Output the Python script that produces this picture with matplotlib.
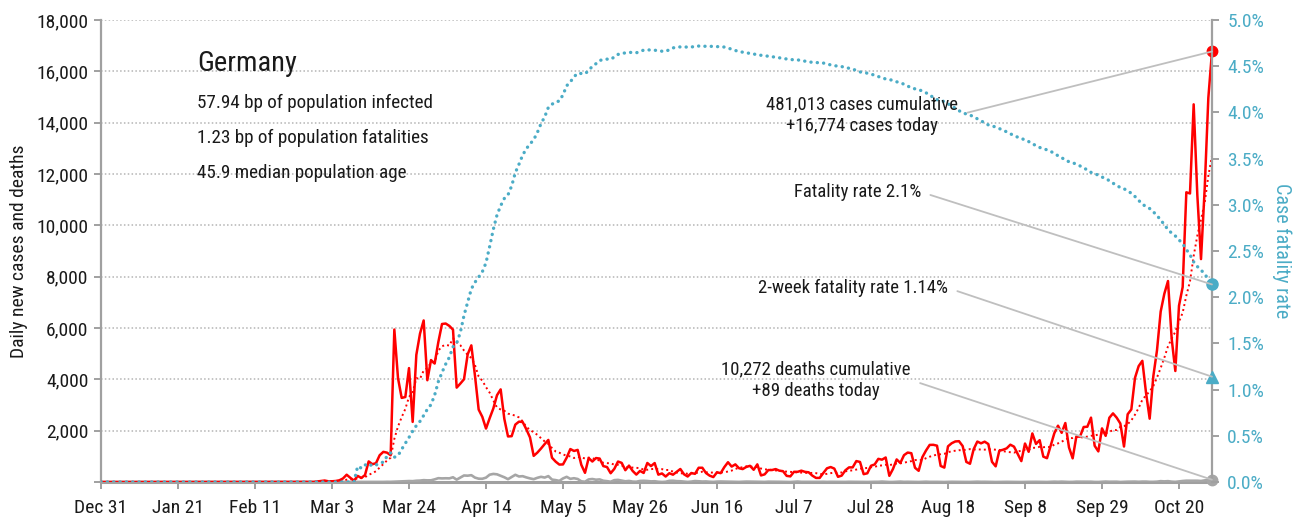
import numpy as np
import pandas as pd
import matplotlib
matplotlib.use("Agg")
import matplotlib.pyplot as plt
from matplotlib import font_manager as fm
from matplotlib.ticker import FixedLocator, FuncFormatter

# ---------------- data ----------------
start_date = "2019-12-31"

cases_dec_feb = [0]*28 + [4, 0, 0, 1, 3, 0, 2, 2] + [0]*7 + [2] + [0]*13 + [2, 3, 22, 39]
cases_mar = [57, 28, 28, 39, 66, 138, 284, 163, 55, 237, 157, 271, 802, 693, 733, 1043,
             1174, 1144, 1042, 5940, 4049, 3276, 3311, 4438, 2342, 4954, 5780, 6294,
             3965, 4751, 4615]
cases_apr = [5453, 6156, 6174, 6082, 5936, 3677, 3834, 4003, 4974, 5323, 4133, 2821,
             2537, 2082, 2486, 2866, 3380, 3609, 2458, 1775, 1785, 2237, 2352, 2337,
             2055, 1737, 1018, 1144, 1304, 1478]
cases_may = [1639, 945, 793, 679, 685, 947, 1284, 1209, 1251, 667, 357, 933, 798, 933,
             913, 620, 583, 342, 513, 797, 745, 460, 638, 431, 289, 432, 353, 741, 620,
             738, 286]
cases_jun = [333, 213, 342, 285, 394, 507, 301, 214, 350, 318, 555, 555, 348, 247, 192,
             378, 345, 580, 770, 601, 687, 537, 503, 587, 630, 477, 687, 256, 298, 466]
cases_jul = [466, 503, 442, 422, 239, 219, 397, 397, 442, 395, 378, 248, 159, 159, 351,
             534, 583, 522, 202, 249, 454, 569, 570, 815, 781, 305, 340, 633, 684, 902,
             870]
cases_aug = [955, 240, 509, 879, 741, 1045, 1147, 1122, 555, 436, 966, 1226, 1445, 1449,
             1415, 625, 561, 1390, 1510, 1580, 1590, 1400, 782, 711, 1278, 1576, 1507,
             1571, 1479, 786, 610]
cases_sep = [1218, 1256, 1311, 1453, 1378, 1100, 814, 1499, 1176, 1892, 1484, 1630, 988,
             927, 1407, 1901, 2194, 1916, 2297, 1345, 922, 1769, 1769, 2143, 2153, 2507,
             1411, 1192, 2089, 1798]
cases_oct = [2503, 2673, 2507, 2279, 1382, 2639, 2828, 4058, 4516, 4721, 3483, 2467,
             4122, 5132, 6638, 7334, 7830, 5587, 4325, 6868, 7595, 11287, 11242, 14714,
             11176, 8685, 11409, 14964, 16774]

deaths_dec_feb = [0]*61
deaths_mar = [0]*9 + [2, 0, 1, 1, 2, 1, 3, 3, 7, 6, 12, 14, 24, 28, 37, 33, 49, 55, 72,
                      64, 66, 103]
deaths_apr = [149, 140, 145, 141, 184, 92, 173, 254, 246, 266, 171, 129, 126, 170, 285,
              315, 299, 242, 184, 110, 194, 281, 215, 227, 179, 140, 110, 163, 202, 173]
deaths_may = [230, 94, 74, 43, 139, 201, 123, 147, 118, 26, 10, 101, 116, 89, 101, 48,
              33, 10, 72, 83, 57, 27, 42, 15, 10, 42, 47, 39, 24, 30, 10]
deaths_jun = [1, 9, 46, 50, 33, 29, 16, 3, 16, 38, 26, 18, 22, 10, 4, 15, 19, 16, 13, 10,
              4, 3, 10, 16, 15, 12, 8, 7, 3, 12]
deaths_jul = [12, 12, 8, 4, 1, 0, 9, 18, 6, 5, 3, 0, 2, 5, 8, 3, 7, 6, 1, 0, 3, 8, 6, 4,
              4, 0, 1, 6, 7, 8, 17]
deaths_aug = [7, 0, 1, 7, 15, 6, 8, 5, 1, 1, 6, 12, 5, 6, 5, 2, 0, 4, 8, 5, 6, 3, 1, 2,
              6, 12, 7, 8, 4, 1, 0]
deaths_sep = [3, 6, 6, 3, 2, 1, 0, 4, 5, 7, 7, 5, 1, 1, 7, 13, 8, 14, 6, 2, 4, 13, 12,
              12, 13, 11, 2, 1, 7, 17]
deaths_oct = [10, 9, 12, 0, 7, 12, 13, 16, 8, 16, 16, 6, 6, 13, 33, 24, 33, 13, 5, 24,
              39, 50, 49, 45, 49, 40, 62, 85, 89]

country = "Germany"
stats_lines = ["57.94 bp of population infected",
               "1.23 bp of population fatalities",
               "45.9 median population age"]
cases_label = "481,013 cases cumulative\n+16,774 cases today"
deaths_label = "10,272 deaths cumulative\n+89 deaths today"
cfr_label = "Fatality rate 2.1%"
cfr2w_value = 1.14
cfr2w_label = "2-week fatality rate 1.14%"

# ---------------- font ----------------
names = {f.name for f in fm.fontManager.ttflist}
stretch = "normal"
if "Roboto Condensed" in names:
    fam = "Roboto Condensed"
elif "Liberation Sans Narrow" in names:
    fam = "Liberation Sans Narrow"
elif any(("Condensed" in f.fname and "DejaVuSans" in f.fname) for f in fm.fontManager.ttflist):
    fam = "DejaVu Sans"
    stretch = "condensed"
else:
    fam = "Liberation Sans"
plt.rcParams["font.family"] = [fam, "DejaVu Sans"]
plt.rcParams["font.stretch"] = stretch

# ---------------- derived series ----------------
cases = np.array(cases_dec_feb + cases_mar + cases_apr + cases_may + cases_jun +
                 cases_jul + cases_aug + cases_sep + cases_oct, dtype=float)
deaths = np.array(deaths_dec_feb + deaths_mar + deaths_apr + deaths_may + deaths_jun +
                  deaths_jul + deaths_aug + deaths_sep + deaths_oct, dtype=float)
dates = pd.date_range(start_date, periods=len(cases), freq="D")
cum_c = np.cumsum(cases)
cum_d = np.cumsum(deaths)
cfr = np.where(cum_c > 0, cum_d / np.maximum(cum_c, 1), 0.0)
trend = pd.Series(cases).rolling(7).mean().values

# ---------------- plot ----------------
RED = "#FF0000"
TEAL = "#4BACC6"
GRAY = "#A6A6A6"
SPINE = "#A0A0A0"
TXT = "#1a1a1a"

fig = plt.figure(figsize=(13.07, 5.23), dpi=100)
ax = fig.add_axes([101/1307, 1-482/523, 1111/1307, 462/523])
ax2 = ax.twinx()

ax.plot(dates, deaths, color=GRAY, lw=1.9, zorder=3)
ax.plot(dates, trend, color=RED, lw=1.4, linestyle=(0, (1, 1.6)), zorder=3)
ax.plot(dates, cases, color=RED, lw=1.8, zorder=4)
ax.plot(dates[-1], cases[-1], "o", color=RED, ms=7.5, zorder=6, clip_on=False)
ax.plot(dates[-1], deaths[-1], "o", color=GRAY, ms=7.5, zorder=6, clip_on=False)

ax2.plot(dates, cfr, color=TEAL, lw=2.4, linestyle=(0, (0.05, 1.85)),
         dash_capstyle="round", zorder=3)
ax2.plot(dates[-1], cfr[-1], "o", color=TEAL, ms=8, zorder=6, clip_on=False)
ax2.plot(dates[-1], cfr2w_value/100, "^", color=TEAL, ms=8.5, zorder=6, clip_on=False)

ax.set_xlim(dates[0], dates[-1])
ax.set_ylim(0, 18000)
ax2.set_ylim(0, 0.05)

ax.yaxis.set_major_locator(FixedLocator(np.arange(0, 18001, 2000)))
ax.yaxis.set_major_formatter(FuncFormatter(lambda v, p: "" if v == 0 else f"{v:,.0f}"))
ax2.yaxis.set_major_locator(FixedLocator(np.arange(0, 0.0501, 0.005)))
ax2.yaxis.set_major_formatter(FuncFormatter(lambda v, p: f"{v*100:.1f}%"))

xt = pd.date_range(start_date, dates[-1], freq="21D")
ax.set_xticks(xt)
ax.set_xticklabels([d.strftime("%b ") + str(d.day) for d in xt])

ax.grid(axis="y", color="#B4B4B4", linestyle=(0, (1, 1.5)), lw=1.1)
ax.set_axisbelow(True)

for a in (ax, ax2):
    a.spines["top"].set_visible(False)
    for s in ("left", "right", "bottom"):
        a.spines[s].set_color(SPINE)
        a.spines[s].set_linewidth(1.6)
ax.spines["bottom"].set_linewidth(2.2)
ax.spines["right"].set_visible(False)
ax2.spines["left"].set_visible(False)
ax2.spines["bottom"].set_visible(False)

ax.tick_params(axis="y", direction="out", length=5, width=1.4, color=SPINE,
               labelsize=14, labelcolor=TXT, pad=4)
ax.tick_params(axis="x", direction="out", length=5, width=1.4, color=SPINE,
               labelsize=14, labelcolor=TXT, pad=7)
ax2.tick_params(axis="y", direction="out", length=5, width=1.4, color=SPINE,
                labelsize=14, labelcolor=TEAL, pad=6)

ax.set_ylabel("Daily new cases and deaths", fontsize=14, color=TXT, labelpad=6)
ax2.set_ylabel("Case fatality rate", fontsize=14.5, color=TEAL, rotation=270, labelpad=20)

def fx(px):
    return (px - 101) / 1111

def fy(py):
    return (482 - py) / 462

ax2.text(fx(197), fy(63), country, fontsize=20.5, color=TXT, ha="left", va="center",
         transform=ax2.transAxes, zorder=7)
for i, line in enumerate(stats_lines):
    ax2.text(fx(197), fy(103 + 35*i), line, fontsize=13.8, color=TXT, ha="left",
             va="center", transform=ax2.transAxes, zorder=7)

lineprops = dict(arrowstyle="-", color="#BFBFBF", lw=1.3, shrinkA=5, shrinkB=0)

ax2.annotate(cases_label, xy=(dates[-1], cases[-1]/18000*0.05), xycoords="data",
             xytext=(fx(862), fy(115)), textcoords="axes fraction",
             ha="center", va="center", multialignment="center", fontsize=13.5,
             color=TXT, linespacing=1.3,
             arrowprops=dict(lineprops, relpos=(1, 0.5)), zorder=7)
ax2.annotate(cfr_label, xy=(dates[-1], cfr[-1]), xycoords="data",
             xytext=(fx(921), fy(192)), textcoords="axes fraction",
             ha="right", va="center", fontsize=13.5, color=TXT,
             arrowprops=dict(lineprops, relpos=(1, 0.5)), zorder=7)
ax2.annotate(cfr2w_label, xy=(dates[-1], cfr2w_value/100), xycoords="data",
             xytext=(fx(948), fy(288)), textcoords="axes fraction",
             ha="right", va="center", fontsize=13.5, color=TXT,
             arrowprops=dict(lineprops, relpos=(1, 0.5)), zorder=7)
ax2.annotate(deaths_label, xy=(dates[-1], deaths[-1]/18000*0.05), xycoords="data",
             xytext=(fx(816), fy(380)), textcoords="axes fraction",
             ha="center", va="center", multialignment="center", fontsize=13.5,
             color=TXT, linespacing=1.3,
             arrowprops=dict(lineprops, relpos=(1, 0.5)), zorder=7)

fig.savefig("out.png", dpi=100)
